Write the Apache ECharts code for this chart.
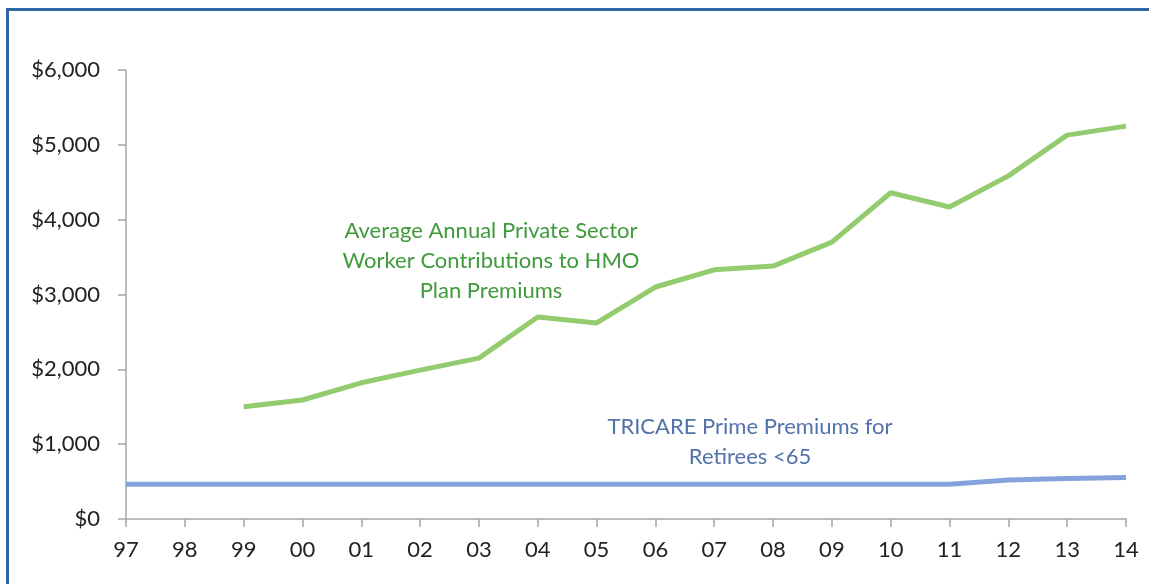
<!DOCTYPE html>
<html>
<head>
<meta charset="utf-8">
<script src="https://cdn.jsdelivr.net/npm/echarts@6/dist/echarts.min.js"></script>
<style>
  html, body { margin: 0; padding: 0; background: #fff; overflow: hidden; width: 1149px; height: 584px; }
  #frame {
    position: absolute; left: 6px; top: 8px; width: 1140px; height: 576px;
    border-left: 3px solid #2f66a3; border-top: 3px solid #2f66a3;
  }
  #chart { position: absolute; left: 0; top: 0; width: 1149px; height: 584px; }
</style>
</head>
<body>
<div id="frame"></div>
<div id="chart"></div>
<script>
const years = ['97', '98', '99', '00', '01', '02', '03', '04', '05', '06', '07', '08', '09', '10', '11', '12', '13', '14']
// private sector HMO worker contributions (no data before 99)
const privateHmo = [null, null, 1500, 1590, 1820, 1990, 2150, 2700, 2620, 3100, 3330, 3380, 3700, 4360, 4170, 4585, 5130, 5250]
// TRICARE Prime retiree premiums
const tricare = [465, 465, 465, 465, 465, 465, 465, 465, 465, 465, 465, 465, 465, 465, 465, 520, 540, 556]
const yTicks = [0, 1000, 2000, 3000, 4000, 5000, 6000]

const font = 'Lato, "Open Sans", sans-serif'
const chart = echarts.init(document.getElementById('chart'))

chart.setOption({
  animation: false,
  grid: { left: 126, right: 23, top: 70, bottom: 65 },
  xAxis: {
    type: 'category',
    data: years,
    boundaryGap: false,
    axisLine: { lineStyle: { color: '#a6a6a6', width: 1.5 } },
    axisTick: { alignWithLabel: true, length: 8, lineStyle: { color: '#a6a6a6', width: 1.5 } },
    axisLabel: { color: '#222', fontSize: 22, fontFamily: font, margin: 20, interval: 0 },
    splitLine: { show: false }
  },
  yAxis: {
    type: 'value',
    min: yTicks[0],
    max: yTicks[yTicks.length - 1],
    interval: 1000,
    axisLine: { show: true, lineStyle: { color: '#a6a6a6', width: 1.5 } },
    axisTick: { show: true, length: 8, lineStyle: { color: '#a6a6a6', width: 1.5 } },
    axisLabel: {
      color: '#222', fontSize: 22, fontFamily: font, margin: 26,
      formatter: (v) => '$' + v.toLocaleString('en-US')
    },
    splitLine: { show: false }
  },
  series: [
    {
      name: 'Average Annual Private Sector Worker Contributions to HMO Plan Premiums',
      type: 'line',
      data: privateHmo,
      symbol: 'none',
      lineStyle: { color: '#92cc6e', width: 5 },
      itemStyle: { color: '#92cc6e' }
    },
    {
      name: 'TRICARE Prime Premiums for Retirees <65',
      type: 'line',
      data: tricare,
      symbol: 'none',
      lineStyle: { color: '#86a2dc', width: 5 },
      itemStyle: { color: '#86a2dc' }
    }
  ],
  graphic: [
    {
      type: 'text', x: 491, y: 216,
      style: {
        text: 'Average Annual Private Sector\nWorker Contributions to HMO\nPlan Premiums',
        fill: '#3f9a3a', font: '22px ' + font, align: 'center', lineHeight: 30
      }
    },
    {
      type: 'text', x: 750, y: 412,
      style: {
        text: 'TRICARE Prime Premiums for\nRetirees <65',
        fill: '#5272aa', font: '22px ' + font, align: 'center', lineHeight: 30
      }
    }
  ]
})
</script>
</body>
</html>
